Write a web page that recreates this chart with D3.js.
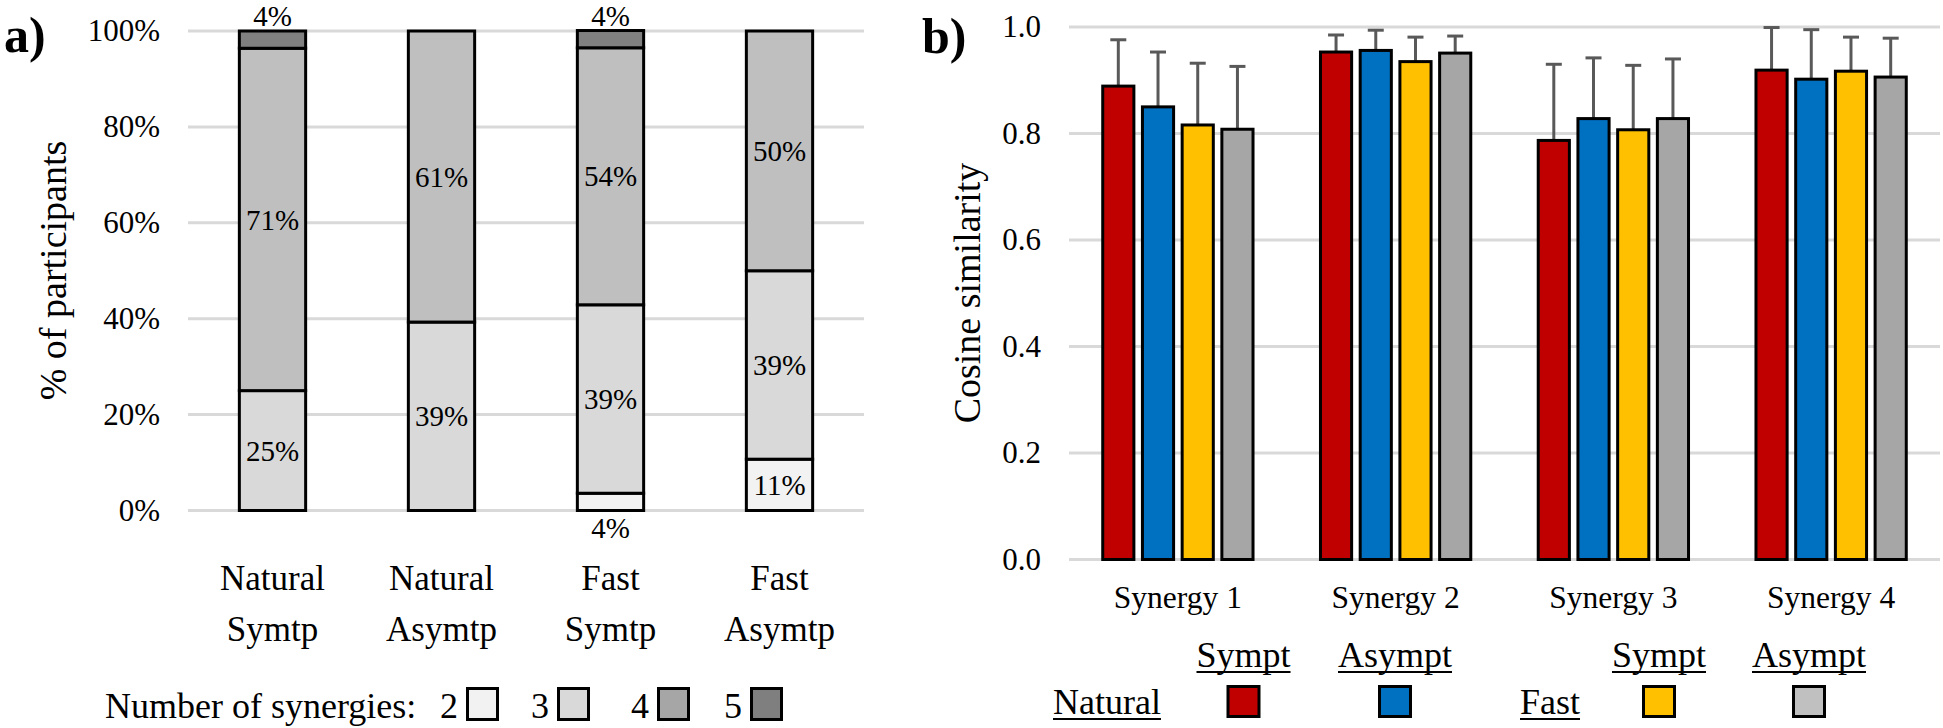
<!DOCTYPE html>
<html>
<head>
<meta charset="utf-8">
<script src="https://cdn.jsdelivr.net/npm/d3@7"></script>
<style>
  html, body { margin: 0; padding: 0; background: #fff; }
  svg { display: block; }
</style>
</head>
<body>
<svg id="chart" width="1943" height="728"></svg>
<script>
// ---------- Panel a data ----------
const groupsA = ["Natural Symtp", "Natural Asymtp", "Fast Symtp", "Fast Asymtp"];
const groupLinesA = [["Natural", "Symtp"], ["Natural", "Asymtp"], ["Fast", "Symtp"], ["Fast", "Asymtp"]];
const synergyKeys = ["2", "3", "4", "5"];
const syn2 = [0, 0, 3.6, 10.7];
const syn3 = [25, 39.3, 39.3, 39.3];
const syn4 = [71.4, 60.7, 53.6, 50];
const syn5 = [3.6, 0, 3.6, 0];
const barColorsA = ["#f2f2f2", "#d9d9d9", "#bfbfbf", "#808080"];
const legendColorsA = ["#f2f2f2", "#d9d9d9", "#a6a6a6", "#7f7f7f"];
const yTicksA = [0, 20, 40, 60, 80, 100];

// ---------- Panel b data ----------
const synergies = ["Synergy 1", "Synergy 2", "Synergy 3", "Synergy 4"];
const conditions = ["Natural Sympt", "Natural Asympt", "Fast Sympt", "Fast Asympt"];
const naturalSympt  = [0.889, 0.953, 0.787, 0.919];
const naturalAsympt = [0.850, 0.956, 0.828, 0.902];
const fastSympt     = [0.816, 0.935, 0.807, 0.917];
const fastAsympt    = [0.808, 0.951, 0.828, 0.906];
const naturalSymptSD  = [0.087, 0.032, 0.143, 0.080];
const naturalAsymptSD = [0.103, 0.038, 0.114, 0.093];
const fastSymptSD     = [0.116, 0.046, 0.121, 0.064];
const fastAsymptSD    = [0.118, 0.032, 0.112, 0.073];
const barColorsB = ["#c00000", "#0070c0", "#ffc000", "#a6a6a6"];
const legendColorsB = ["#c00000", "#0070c0", "#ffc000", "#c0c0c0"];
const yTicksB = [0, 0.2, 0.4, 0.6, 0.8, 1.0];

const FONT = "'Liberation Serif', 'Times New Roman', Tinos, Times, 'DejaVu Serif', serif";

const svg = d3.select("#chart").attr("font-family", FONT);
svg.append("rect").attr("width", 1943).attr("height", 728).attr("fill", "#fff");

// =================== PANEL A ===================
const gA = svg.append("g");
const xA = d3.scaleBand().domain(groupsA).range([188, 864]).paddingInner(0.59).paddingOuter(0.295);
const yA = d3.scaleLinear().domain([0, 100]).range([510.5, 31]);

gA.append("text").attr("x", 4).attr("y", 52).attr("font-size", 50).attr("font-weight", "bold").text("a)");

gA.selectAll("line.grid").data(yTicksA).join("line")
  .attr("x1", 188).attr("x2", 864)
  .attr("y1", d => yA(d)).attr("y2", d => yA(d))
  .attr("stroke", "#d9d9d9").attr("stroke-width", 3);

const axA = gA.append("g").attr("transform", "translate(160,0)")
  .call(d3.axisLeft(yA).tickValues(yTicksA).tickFormat(d => d + "%").tickSize(0).tickPadding(0));
axA.select(".domain").remove();
axA.attr("font-family", FONT).attr("font-size", 31);
axA.selectAll("text").attr("fill", "#000");

gA.append("text").attr("transform", "translate(66,270.5) rotate(-90)")
  .attr("text-anchor", "middle").attr("font-size", 38).text("% of participants");

const rowsA = groupsA.map((g, i) => ({ group: g, "2": syn2[i], "3": syn3[i], "4": syn4[i], "5": syn5[i] }));
const stackA = d3.stack().keys(synergyKeys)(rowsA);
const sw = 3;
stackA.forEach((layer, li) => {
  layer.forEach((seg, gi) => {
    const v = seg[1] - seg[0];
    if (v <= 0) return;
    const x = xA(groupsA[gi]);
    gA.append("rect")
      .attr("x", x + sw / 2).attr("width", xA.bandwidth() - sw)
      .attr("y", yA(seg[1])).attr("height", yA(seg[0]) - yA(seg[1]))
      .attr("fill", barColorsA[li]).attr("stroke", "#000").attr("stroke-width", sw);
  });
});
stackA.forEach((layer, li) => {
  layer.forEach((seg, gi) => {
    const v = seg[1] - seg[0];
    if (v <= 0) return;
    const cx = xA(groupsA[gi]) + xA.bandwidth() / 2;
    let y, dy = "0.35em";
    if (v < 6 && seg[1] >= 99.5) { y = yA(100) - 5; dy = "0"; }
    else if (v < 6 && seg[0] <= 0.5) { y = yA(0) + 27; dy = "0"; }
    else { y = yA((seg[0] + seg[1]) / 2); }
    gA.append("text").attr("x", cx).attr("y", y).attr("dy", dy)
      .attr("text-anchor", "middle").attr("font-size", 29).text(Math.round(v) + "%");
  });
});

groupsA.forEach((g, i) => {
  const cx = xA(g) + xA.bandwidth() / 2;
  const t = gA.append("text").attr("text-anchor", "middle").attr("font-size", 35);
  t.append("tspan").attr("x", cx).attr("y", 590).text(groupLinesA[i][0]);
  t.append("tspan").attr("x", cx).attr("y", 641).text(groupLinesA[i][1]);
});

gA.append("text").attr("x", 105).attr("y", 718).attr("font-size", 36).text("Number of synergies:");
const legAX = [440, 531, 631, 724];
synergyKeys.forEach((k, i) => {
  gA.append("text").attr("x", legAX[i]).attr("y", 718).attr("font-size", 36).text(k);
  gA.append("rect").attr("x", legAX[i] + 27.5).attr("y", 688.5).attr("width", 30).attr("height", 31)
    .attr("fill", legendColorsA[i]).attr("stroke", "#000").attr("stroke-width", 3);
});

// =================== PANEL B ===================
const gB = svg.append("g");
const x0 = d3.scaleBand().domain(synergies).range([1069, 1940]).paddingInner(0.296).paddingOuter(0.148);
const x1 = d3.scaleBand().domain(conditions).range([0, x0.bandwidth()]).paddingInner(0.14).paddingOuter(0);
const yB = d3.scaleLinear().domain([0, 1]).range([559.5, 27]);

gB.append("text").attr("x", 922).attr("y", 53).attr("font-size", 50).attr("font-weight", "bold").text("b)");

gB.selectAll("line.grid").data(yTicksB).join("line")
  .attr("x1", 1069).attr("x2", 1940)
  .attr("y1", d => yB(d)).attr("y2", d => yB(d))
  .attr("stroke", "#d9d9d9").attr("stroke-width", 3);

const axB = gB.append("g").attr("transform", "translate(1041,0)")
  .call(d3.axisLeft(yB).tickValues(yTicksB).tickFormat(d3.format(".1f")).tickSize(0).tickPadding(0));
axB.select(".domain").remove();
axB.attr("font-family", FONT).attr("font-size", 31);
axB.selectAll("text").attr("fill", "#000");

gB.append("text").attr("transform", "translate(980,293) rotate(-90)")
  .attr("text-anchor", "middle").attr("font-size", 38).text("Cosine similarity");

const meansB = [naturalSympt, naturalAsympt, fastSympt, fastAsympt];
const sdsB = [naturalSymptSD, naturalAsymptSD, fastSymptSD, fastAsymptSD];
const rowsB = [];
synergies.forEach((s, si) => conditions.forEach((c, ci) => rowsB.push({ s, c, ci, m: meansB[ci][si], sd: sdsB[ci][si] })));

rowsB.forEach(d => {
  const cx = x0(d.s) + x1(d.c) + x1.bandwidth() / 2;
  gB.append("line").attr("x1", cx).attr("x2", cx)
    .attr("y1", yB(d.m)).attr("y2", yB(d.m + d.sd))
    .attr("stroke", "#595959").attr("stroke-width", 3);
  gB.append("line").attr("x1", cx - 8).attr("x2", cx + 8)
    .attr("y1", yB(d.m + d.sd)).attr("y2", yB(d.m + d.sd))
    .attr("stroke", "#595959").attr("stroke-width", 3);
});
rowsB.forEach(d => {
  const x = x0(d.s) + x1(d.c);
  gB.append("rect")
    .attr("x", x + sw / 2).attr("width", x1.bandwidth() - sw)
    .attr("y", yB(d.m)).attr("height", yB(0) - yB(d.m))
    .attr("fill", barColorsB[d.ci]).attr("stroke", "#000").attr("stroke-width", sw);
});

synergies.forEach(s => {
  gB.append("text").attr("x", x0(s) + x0.bandwidth() / 2).attr("y", 608)
    .attr("text-anchor", "middle").attr("font-size", 31.5).text(s);
});

function underlined(g, x, y, txt, anchor) {
  const t = g.append("text").attr("x", x).attr("y", y).attr("font-size", 36).attr("text-anchor", anchor).text(txt);
  const bb = t.node().getBBox();
  g.append("line").attr("x1", bb.x).attr("x2", bb.x + bb.width)
    .attr("y1", y + 5).attr("y2", y + 5).attr("stroke", "#000").attr("stroke-width", 2);
}
underlined(gB, 1053, 714, "Natural", "start");
underlined(gB, 1520, 714, "Fast", "start");
const legBX = [1243.5, 1395, 1659, 1809];
const legBHead = ["Sympt", "Asympt", "Sympt", "Asympt"];
conditions.forEach((c, i) => {
  underlined(gB, legBX[i], 667, legBHead[i], "middle");
  gB.append("rect").attr("x", legBX[i] - 15.5).attr("y", 686.5).attr("width", 31).attr("height", 30)
    .attr("fill", legendColorsB[i]).attr("stroke", "#000").attr("stroke-width", 3);
});
</script>
</body>
</html>
